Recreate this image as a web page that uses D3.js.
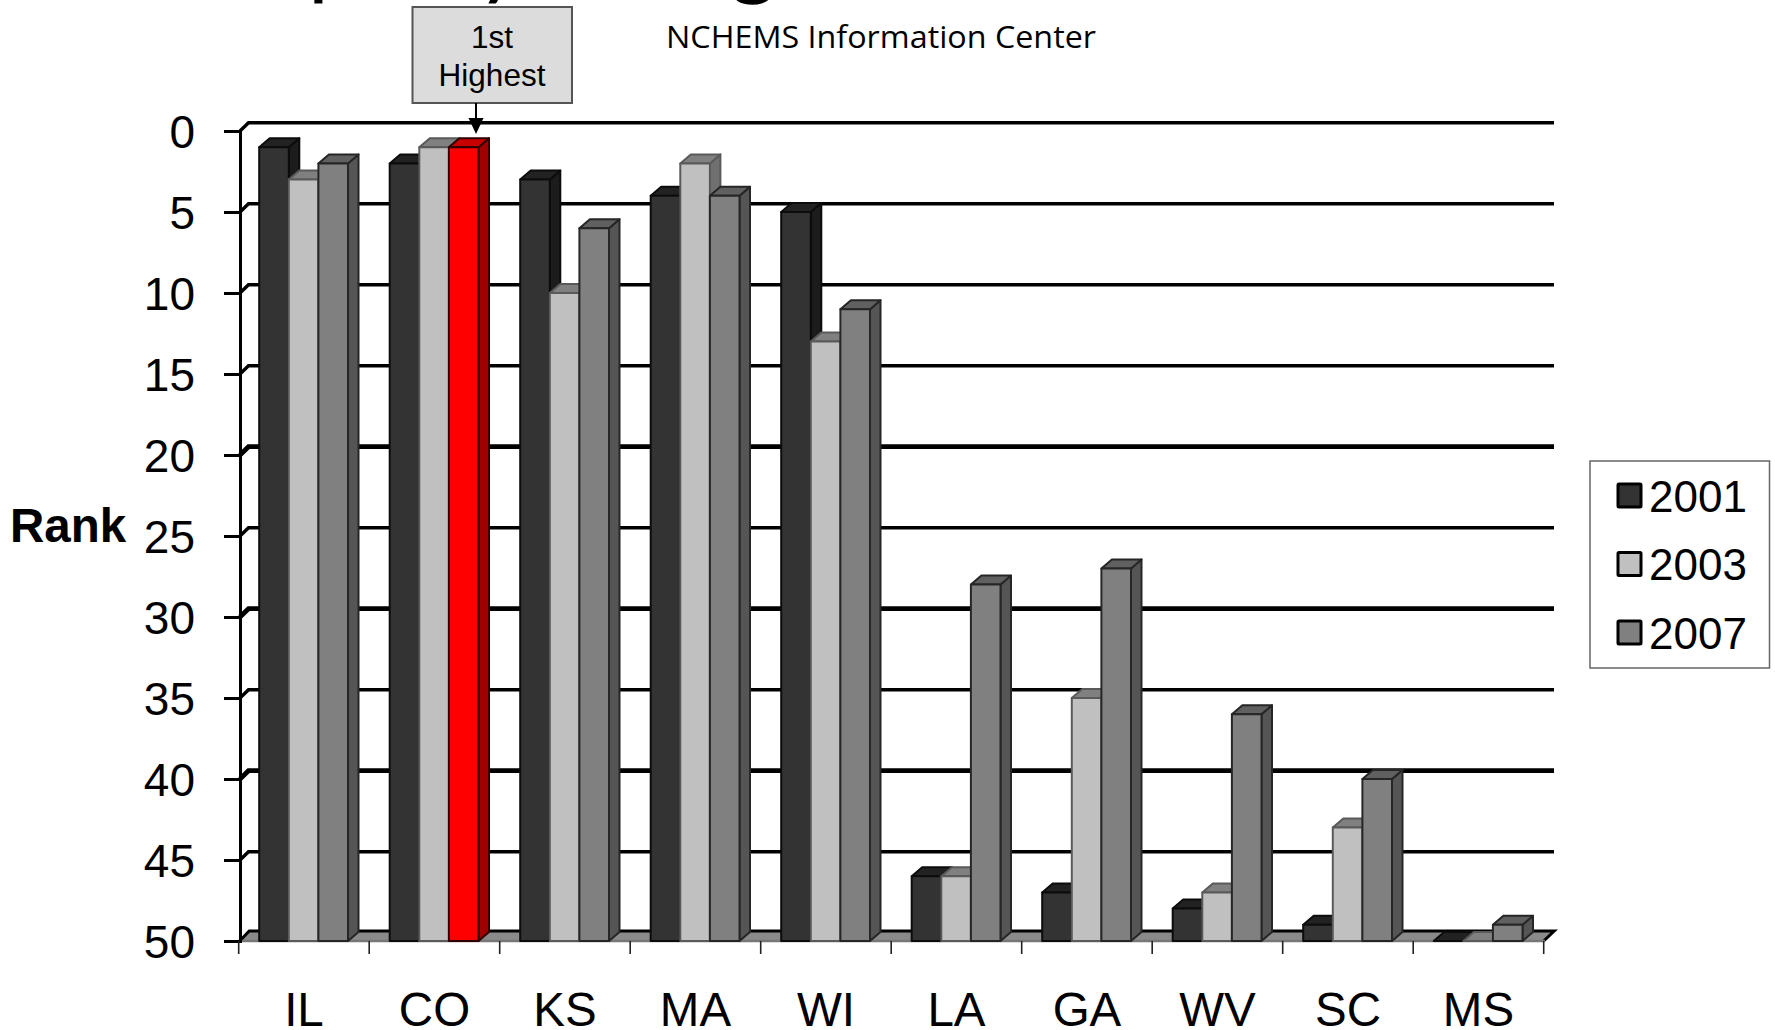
<!DOCTYPE html>
<html><head><meta charset="utf-8">
<style>html,body{margin:0;padding:0;background:#fff;overflow:hidden}svg{display:block}text{font-family:"Liberation Sans",Arial,sans-serif;fill:#000}</style>
<script src="https://cdn.jsdelivr.net/npm/d3@7/dist/d3.min.js"></script>
</head><body><svg id="c" width="1775" height="1030"></svg>
<script>
const states=["IL","CO","KS","MA","WI","LA","GA","WV","SC","MS"];
const years=["2001","2003","2007"];
const rank2001=[1,2,3,4,5,46,47,48,49,50];
const rank2003=[3,1,10,2,13,46,35,47,43,50];
const rank2007=[2,1,6,4,11,28,27,36,40,49];
const yTicks=[0,5,10,15,20,25,30,35,40,45,50];
const thickTicks=[20,30,40];
const seriesValues=[rank2001,rank2003,rank2007];
const faceColors=["#333333","#c0c0c0","#808080"];
const topColors=["#222222","#808080","#606060"];
const sideColors=["#1c1c1c","#707070","#555555"];
const edgeColors=["#0c0c0c","#5a5a5a","#262626"];
const highlight={state:"CO",year:"2007",face:"#ff0000",top:"#c80000",side:"#a00000",edge:"#300000"};

const svg=d3.select("#c");
const dx=10.5,dy=9;
const y=d3.scaleLinear().domain([0,50]).range([131,941]);
const x=d3.scaleBand().domain(states).range([238.7,1543.7]);
const xs=d3.scaleBand().domain(years).range([20.5,20.5+3*29.6]);
const gridEnd=1554;
const gridY=t=>y(t)-8.3;

// gridlines on the back wall
const grid=svg.append("g");
grid.selectAll("path").data(yTicks.slice(0,-1)).join("path")
  .attr("d",t=>`M240,${y(t)}L${240+dx-2},${gridY(t)}H${gridEnd}`)
  .attr("fill","none").attr("stroke","#000")
  .attr("stroke-width",t=>thickTicks.includes(t)?4.8:3.4);

// floor
svg.append("path")
  .attr("d",`M${x.range()[0]},941L${x.range()[0]+dx},${941-dy}H${x.range()[1]+dx}L${x.range()[1]},941Z`)
  .attr("fill","#8a8a8a");
svg.append("path")
  .attr("d",`M${x.range()[0]+2},940L${x.range()[0]+dx},${931}H${x.range()[1]+dx}L${x.range()[1]},941`)
  .attr("fill","none").attr("stroke","#000").attr("stroke-width",3);
svg.append("line").attr("x1",238).attr("x2",1545).attr("y1",941).attr("y2",941).attr("stroke","#777").attr("stroke-width",2.5);

// bars
const bars=svg.append("g");
states.forEach((s,si)=>{
  years.forEach((yr,k)=>{
    const v=seriesValues[k][si];
    const hl=s===highlight.state&&yr===highlight.year;
    const x0=x(s)+xs(yr),w=xs.bandwidth(),y0=y(v),b=y(50);
    const g=bars.append("g").attr("stroke",hl?highlight.edge:edgeColors[k]).attr("stroke-width",2).attr("stroke-linejoin","round");
    if(b-y0>0){
      g.append("path").attr("d",`M${x0+w},${y0}L${x0+w+dx},${y0-dy}V${b-dy}L${x0+w},${b}Z`).attr("fill",hl?highlight.side:sideColors[k]);
    }
    g.append("path").attr("d",`M${x0},${y0}L${x0+dx},${y0-dy}H${x0+w+dx}L${x0+w},${y0}Z`).attr("fill",hl?highlight.top:topColors[k]);
    if(b-y0>0){
      g.append("rect").attr("x",x0).attr("y",y0).attr("width",w).attr("height",b-y0).attr("fill",hl?highlight.face:faceColors[k]);
    }
  });
});

// y axis
const ya=svg.append("g").attr("transform","translate(240,0)")
  .call(d3.axisLeft(y).tickValues(yTicks).tickSize(16).tickPadding(29));
ya.select(".domain").attr("stroke","#000").attr("stroke-width",3);
ya.selectAll(".tick line").attr("stroke","#000").attr("stroke-width",3);
ya.selectAll(".tick text").attr("font-size",46).attr("font-family","Liberation Sans").attr("dy","0.36em").attr("fill","#000");

// x axis
const xa=svg.append("g").attr("transform","translate(0,941)")
  .call(d3.axisBottom(x).tickSize(0).tickPadding(52));
xa.select(".domain").remove();
xa.selectAll(".tick text").attr("font-size",47.5).attr("font-family","Liberation Sans").attr("dy",0).attr("fill","#000")
  .each(function(){d3.select(this).attr("y",84.5);});
svg.append("g").selectAll("line").data(states.map(s=>x(s)).concat([x.range()[1]])).join("line")
  .attr("x1",d=>d).attr("x2",d=>d).attr("y1",941).attr("y2",954).attr("stroke","#222").attr("stroke-width",1.6);

// axis title
svg.append("text").attr("x",10).attr("y",542).attr("font-size",47.5).attr("font-weight","bold").text("Rank");

// cropped title fragments
[["p",308],["y",477],["g",730]].forEach(d=>{
  svg.append("text").attr("x",d[1]).attr("y",-12).attr("font-size",90).style("font-family","Lato").text(d[0]);
});
svg.append("text").attr("x",666).attr("y",48).attr("font-size",31).style("font-family","Open Sans")
  .attr("textLength",430).attr("lengthAdjust","spacingAndGlyphs").text("NCHEMS Information Center");

// callout
svg.append("rect").attr("x",412.5).attr("y",7).attr("width",159.5).attr("height",96).attr("fill","#dcdcdc").attr("stroke","#555").attr("stroke-width",2);
svg.append("text").attr("x",492).attr("y",48).attr("text-anchor","middle").attr("font-size",31.5).text("1st");
svg.append("text").attr("x",492).attr("y",86).attr("text-anchor","middle").attr("font-size",31.5).text("Highest");
svg.append("line").attr("x1",476).attr("x2",476).attr("y1",103).attr("y2",120).attr("stroke","#000").attr("stroke-width",2);
svg.append("path").attr("d","M468.5,118H483.5L476,134Z").attr("fill","#000");

// legend
svg.append("rect").attr("x",1590).attr("y",461).attr("width",179.5).attr("height",207).attr("fill","#fff").attr("stroke","#666").attr("stroke-width",1.5);
const legendY=d3.scalePoint().domain(years).range([495.5,632.5]);
const lg=svg.append("g").selectAll("g").data(years).join("g");
lg.append("rect").attr("x",1618).attr("y",d=>legendY(d)-11.5).attr("width",23).attr("height",23)
  .attr("fill",(d,i)=>faceColors[i]).attr("stroke","#000").attr("stroke-width",3).attr("rx",1);
lg.append("text").attr("x",1649).attr("y",d=>legendY(d)+16).attr("font-size",44).text(d=>d);
</script></body></html>
